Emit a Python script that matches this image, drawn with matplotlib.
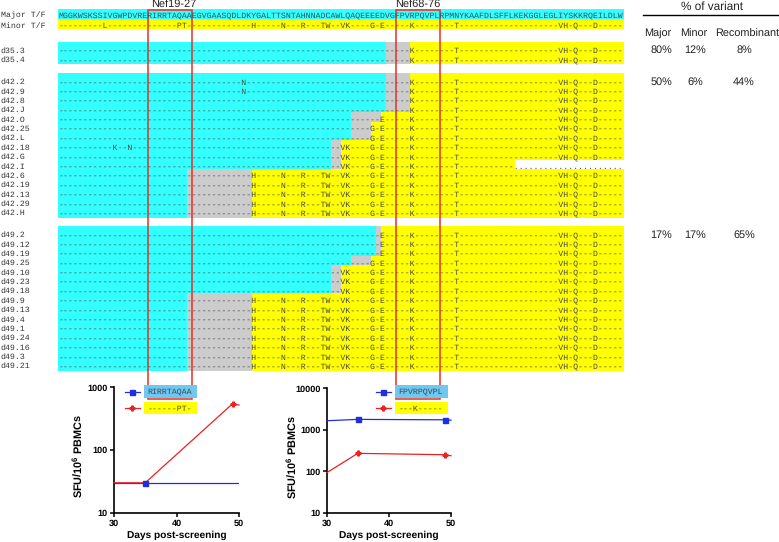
import matplotlib
matplotlib.use("Agg")
import matplotlib.pyplot as plt
from matplotlib.patches import Rectangle
from matplotlib.ticker import NullLocator
import numpy as np

plt.rcParams['font.family'] = ['Liberation Sans', 'DejaVu Sans']
plt.rcParams['mathtext.fontset'] = 'custom'
plt.rcParams['mathtext.rm'] = 'Liberation Sans'
plt.rcParams['mathtext.bf'] = 'Liberation Sans:bold'
plt.rcParams['text.hinting'] = 'no_hinting'

# ---------------- data ----------------
major_tf = "MGGKWSKSSIVGWPDVRERIRRTAQAAEGVGAASQDLDKYGALTTSNTAHNNADCAWLQAQEEEEDVGFPVRPQVPLRPMNYKAAFDLSFFLKEKGGLEGLIYSKKRQEILDLW"
minor_sites = [9, 24, 25, 39, 45, 49, 53, 54, 57, 58, 63, 65, 71, 80, 101, 102, 104, 108]
minor_residues = list("LPTHNRTWVKGEKTVHQD")

row_labels = ['d35.3', 'd35.4',
              'd42.2', 'd42.9', 'd42.8', 'd42.J', 'd42.O', 'd42.25', 'd42.L', 'd42.18',
              'd42.G', 'd42.I', 'd42.6', 'd42.19', 'd42.13', 'd42.29', 'd42.H',
              'd49.2', 'd49.12', 'd49.19', 'd49.25', 'd49.10', 'd49.23', 'd49.18', 'd49.9',
              'd49.13', 'd49.4', 'd49.1', 'd49.24', 'd49.16', 'd49.3', 'd49.21']
row_group = [0] * 2 + [1] * 15 + [2] * 15
# end of major (cyan) part and of ambiguous (grey) part, in residue positions
cyan_end = [66, 66,
            66, 66, 66, 66, 59, 59, 59, 55, 55, 55, 26, 26, 26, 26, 26,
            64, 64, 64, 59, 55, 55, 55, 26, 26, 26, 26, 26, 26, 26, 26]
grey_end = [71, 71,
            71, 71, 71, 71, 65, 63, 63, 57, 57, 57, 39, 39, 39, 39, 39,
            65, 65, 65, 63, 57, 57, 57, 39, 39, 39, 39, 39, 39, 39, 39]
extra_mutations = {'d42.2': {37: 'N'}, 'd42.9': {37: 'N'}, 'd42.18': {11: 'K', 14: 'N'}}
truncated_at = {'d42.I': 92}

epitope_names = ['Nef19-27', 'Nef68-76']
epitope_start = [18, 68]
epitope_len = 9

pct_major = ['80%', '50%', '17%']
pct_minor = ['12%', '6%', '17%']
pct_recomb = ['8%', '44%', '65%']

days = [30, 35, 49, 50]
sfu_nef19_major = [30, 30, 30, 30]
sfu_nef19_minor = [30, 30, 550, 520]
sfu_nef68_major = [1650, 1780, 1740, 1700]
sfu_nef68_minor = [92, 270, 250, 236]

# ---------------- layout / style ----------------
W, H = 779, 542
fig = plt.figure(figsize=(W / 100, H / 100), dpi=100)

X0, CW, RH = 58.3, 4.96, 9.38
NCH = len(major_tf)
FS_SEQ = 5.95
TY = 1.0  # text vertical nudge
MONO = 'Liberation Mono'
CYAN, GREY, YEL = '#33ffff', '#cccccc', '#ffff00'
LEGBLUE = '#6ec8f0'
TXT = '#4a4a4a'
RED = '#e3302a'
BLUE = '#1f2fe0'
LRED = '#ee2020'

major_y, minor_y = 14.5, 24.5
group_first_y = [49.8, 81.0, 234.0]


def cx(i):
    return X0 + i * CW


# plot axes (drawn first, beneath the overlay)
axL = fig.add_axes([114 / W, 1 - 512.7 / H, 125 / W, (512.7 - 387.3) / H])
axR = fig.add_axes([326.7 / W, 1 - 512.7 / H, 124.3 / W, (512.7 - 388.3) / H])

ov = fig.add_axes([0, 0, 1, 1], zorder=10)
ov.set_xlim(0, W)
ov.set_ylim(H, 0)
ov.axis('off')

minor_map = dict(zip(minor_sites, minor_residues))

# --- Major / Minor T/F rows ---
ov.add_patch(Rectangle((cx(0), major_y - 5.2), NCH * CW, 10.0, color=CYAN, lw=0))
ov.add_patch(Rectangle((cx(0), minor_y - 5.2), NCH * CW, 10.0, color=YEL, lw=0))
ov.text(0.7, major_y + TY, 'Major T/F', family=MONO, fontsize=FS_SEQ, ha='left', va='center', color='#333333')
ov.text(0.7, minor_y + TY, 'Minor T/F', family=MONO, fontsize=FS_SEQ, ha='left', va='center', color='#333333')
ov.text(cx(0), major_y + TY, major_tf, family=MONO, fontsize=FS_SEQ, ha='left', va='center', color='#2a5560')
minor_str = ''.join(minor_map.get(i, '-') for i in range(NCH))
ov.text(cx(0), minor_y + TY, minor_str, family=MONO, fontsize=FS_SEQ, ha='left', va='center', color='#55501a')

# --- clone rows ---
row_y = []
counters = {}
for k, lab in enumerate(row_labels):
    g = row_group[k]
    j = counters.get(g, 0)
    counters[g] = j + 1
    row_y.append(group_first_y[g] + j * RH)

for k, lab in enumerate(row_labels):
    y = row_y[k]
    g = row_group[k]
    top = y - RH / 2 - 1.5
    bot = y + RH / 2 - 1.5
    if k == 0 or row_group[k - 1] != g:
        top -= 2.0
    if k == len(row_labels) - 1 or row_group[k + 1] != g:
        bot += 2.0
    else:
        bot += 0.4
    ce, ge = cyan_end[k], grey_end[k]
    ov.add_patch(Rectangle((cx(0), top), ce * CW, bot - top, color=CYAN, lw=0))
    ov.add_patch(Rectangle((cx(ce), top), (ge - ce) * CW, bot - top, color=GREY, lw=0))
    ov.add_patch(Rectangle((cx(ge), top), (NCH - ge) * CW, bot - top, color=YEL, lw=0))
    chars = []
    for i in range(NCH):
        c = '-'
        if i >= ge and i in minor_map:
            c = minor_map[i]
        if lab in extra_mutations and i in extra_mutations[lab]:
            c = extra_mutations[lab][i]
        chars.append(c)
    end = truncated_at.get(lab, NCH)
    if end < NCH:
        ov.add_patch(Rectangle((cx(end), y - RH / 2 - 0.5), (NCH - end) * CW + 2, RH, color='white', lw=0))
        chars = chars[:end] + ['.'] * (NCH - end)
    ov.text(cx(0), y + TY, ''.join(chars), family=MONO, fontsize=FS_SEQ, ha='left', va='center', color=TXT)
    ov.text(0.7, y + TY, lab, family=MONO, fontsize=FS_SEQ, ha='left', va='center', color='#333333')

# --- table of variants ---
ov.text(712, 10.2, '% of variant', fontsize=8.5, ha='center', va='baseline', color='#222222')
ov.plot([643, 779], [14.5, 14.5], color='black', lw=1.0)
for xh, t in zip([658, 694, 747.5], ['Major', 'Minor', 'Recombinant']):
    ov.text(xh, 36.5, t, fontsize=7.8, ha='center', va='baseline', color='#222222')
for g in range(3):
    y = group_first_y[g]
    for xh, t in zip([661, 695, 744], [pct_major[g], pct_minor[g], pct_recomb[g]]):
        ov.text(xh, y + 3.5, t, fontsize=7.8, ha='center', va='baseline', color='#222222')

# --- epitope boxes ---
box_top, box_bot = 9.5, 399.0
for name, s, dx in zip(epitope_names, epitope_start, [4, 0]):
    ov.add_patch(Rectangle((cx(s), box_top), epitope_len * CW, box_bot - box_top,
                           fill=False, edgecolor=RED, lw=1.1))
    ov.text(cx(s) + epitope_len * CW / 2 + dx, 8.3, name, fontsize=7.9, ha='center', va='baseline',
            color='#222222')

# ---------------- response plots ----------------
def style(ax, ymax, yticks):
    ax.set_yscale('log')
    ax.set_xlim(30, 50)
    ax.set_ylim(10, ymax)
    ax.set_xticks([30, 40, 50])
    ax.set_yticks(yticks, labels=[str(t) for t in yticks])
    ax.yaxis.set_minor_locator(NullLocator())
    for sp in ['top', 'right']:
        ax.spines[sp].set_visible(False)
    for sp in ['left', 'bottom']:
        ax.spines[sp].set_linewidth(1.2)
    ax.tick_params(length=3, width=1.1, labelsize=6.6, pad=1.5)
    for lab in ax.get_xticklabels() + ax.get_yticklabels():
        lab.set_fontweight('bold')
    ax.set_xlabel('Days post-screening', fontsize=7.3, fontweight='bold')
    ax.xaxis.label.set_va('center')
    ax.xaxis.set_label_coords(0.5, -(535.7 - 512.7) / 125.4)
    ax.set_ylabel(r'SFU/10$^{\mathbf{6}}$ PBMCs', fontsize=7.8, fontweight='bold')
    ax.yaxis.label.set_va('center')
    ax.patch.set_alpha(0)


style(axL, 1000, [10, 100, 1000])
style(axR, 10000, [10, 100, 1000, 10000])
axL.yaxis.set_label_coords((78 - 114) / 125, 0.45)
axR.yaxis.set_label_coords((292 - 326.7) / 124.3, 0.45)

axL.plot(days, sfu_nef19_major, color=BLUE, lw=0.9, zorder=2)
axL.plot(days, sfu_nef19_minor, color=LRED, lw=0.9, marker='P', ms=3.5, markevery=[2], zorder=3,
         clip_on=False)
axL.plot(days[1], sfu_nef19_major[1], color=BLUE, marker='s', ms=3.6, ls='none', zorder=4)

axR.plot(days, sfu_nef68_major, color=BLUE, lw=0.9, marker='s', ms=3.6, markevery=[1, 2], zorder=3,
         clip_on=False)
axR.plot(days, sfu_nef68_minor, color=LRED, lw=0.9, marker='P', ms=3.5, markevery=[1, 2], zorder=3,
         clip_on=False)

# legends (epitope sequences on coloured boxes)
for s, lx in zip(epitope_start, [125, 376]):
    epi = major_tf[s:s + epitope_len]
    var = ''.join(minor_map.get(i, '-') for i in range(s, s + epitope_len))
    bx = lx + 19.5
    ov.plot([lx, lx + 15], [391.7, 391.7], color=BLUE, lw=0.9)
    ov.plot([lx + 7.5], [391.7], color=BLUE, marker='s', ms=3.6)
    ov.plot([lx, lx + 15], [408.3, 408.3], color=LRED, lw=0.9)
    ov.plot([lx + 7.5], [408.3], color=LRED, marker='P', ms=3.5)
    ov.add_patch(Rectangle((bx, 384.5), 52.5, 13, color=LEGBLUE, lw=0, zorder=1))
    ov.add_patch(Rectangle((bx, 401.7), 52.5, 12.6, color=YEL, lw=0, zorder=1))
    ov.text(bx + 3, 391.7, epi, family=MONO, fontsize=FS_SEQ, ha='left', va='center', color='#3a4a55')
    ov.text(bx + 3, 408.5, var, family=MONO, fontsize=FS_SEQ, ha='left', va='center', color='#55501a')

fig.savefig('out.png', dpi=100)
